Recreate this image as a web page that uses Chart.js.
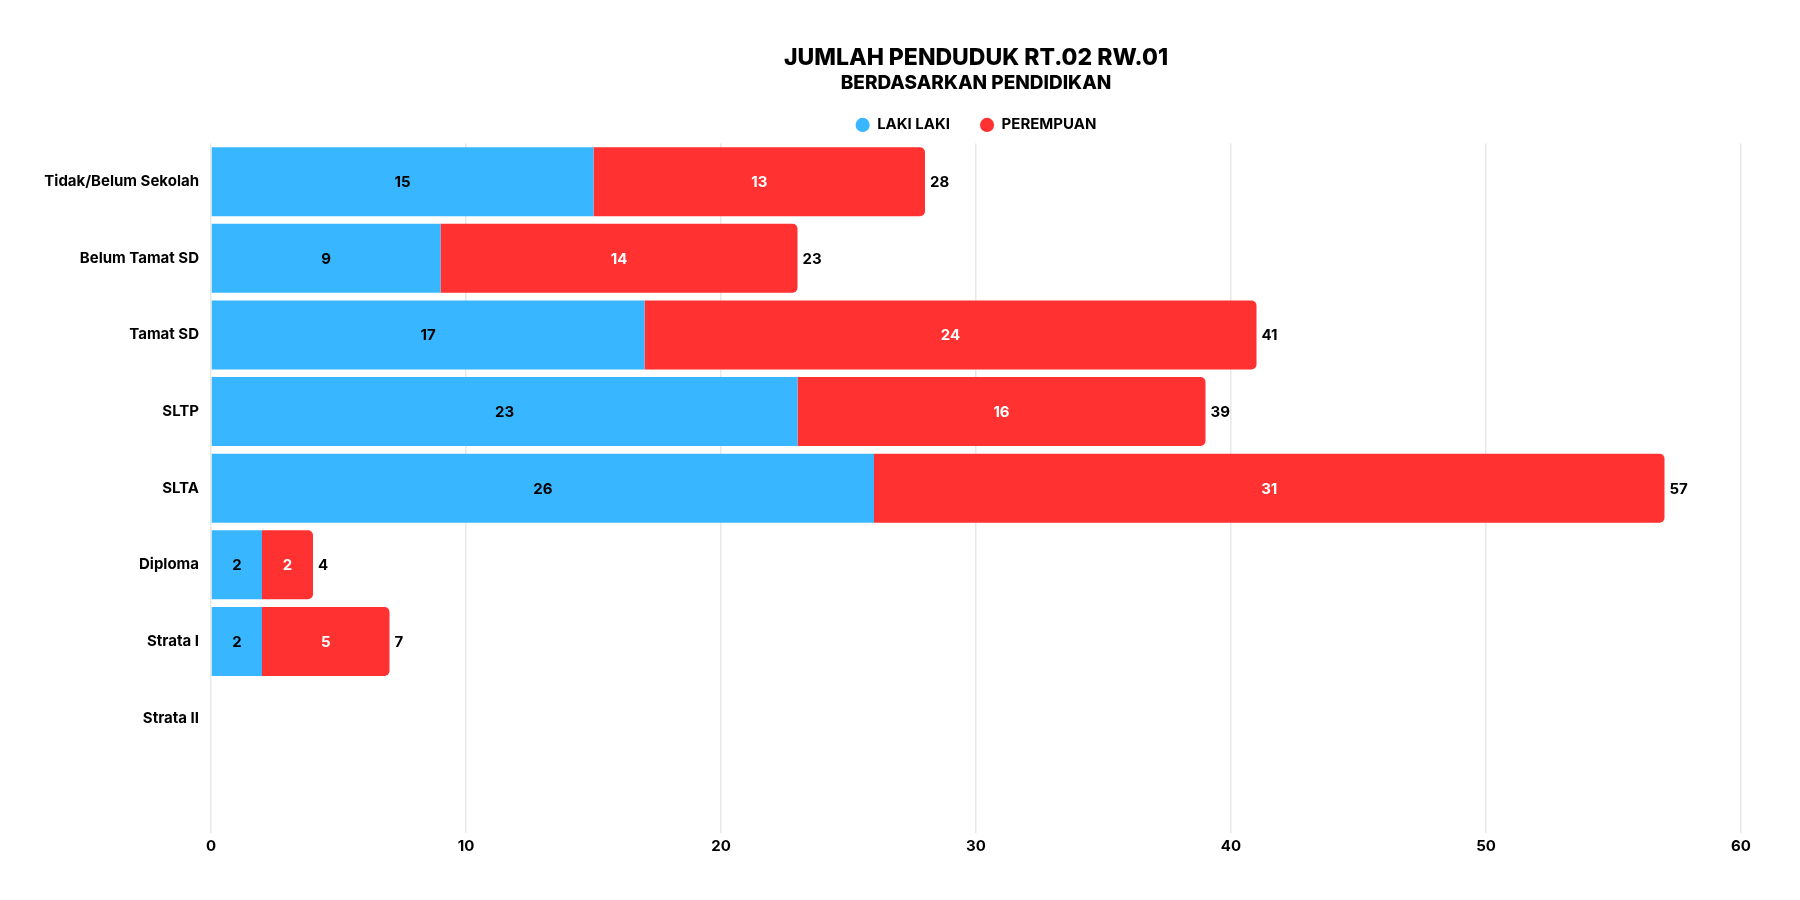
<!DOCTYPE html>
<html>
<head>
<meta charset="utf-8">
<title>Jumlah Penduduk RT.02 RW.01</title>
<script src="https://cdn.jsdelivr.net/npm/chart.js@4/dist/chart.umd.min.js"></script>
<style>
  html, body { margin: 0; padding: 0; background: #fff; }
  #wrap { width: 1800px; height: 900px; position: relative; }
</style>
</head>
<body>
<div id="wrap"><canvas id="chart"></canvas></div>
<script>
// data
const categories = ['Tidak/Belum Sekolah', 'Belum Tamat SD', 'Tamat SD', 'SLTP', 'SLTA', 'Diploma', 'Strata I', 'Strata II', ''];
const laki = [15, 9, 17, 23, 26, 2, 2, 0, null];
const perempuan = [13, 14, 24, 16, 31, 2, 5, 0, null];
const xTicks = [0, 10, 20, 30, 40, 50, 60];

const FONT = 'Inter';
const labelColors = ['#000000', '#ffffff'];

// values inside bars + total at end of each stack
const valueLabels = {
    id: 'valueLabels',
    afterDatasetsDraw(chart) {
        const ctx = chart.ctx;
        ctx.save();
        ctx.font = `bold 15px ${FONT}`;
        ctx.textBaseline = 'middle';
        chart.data.datasets.forEach((ds, di) => {
            const meta = chart.getDatasetMeta(di);
            meta.data.forEach((bar, i) => {
                const v = ds.data[i];
                if (!v) return;
                ctx.fillStyle = labelColors[di];
                ctx.textAlign = 'center';
                ctx.fillText(v, (bar.x + bar.base) / 2, bar.y + 1);
            });
        });
        const last = chart.getDatasetMeta(chart.data.datasets.length - 1);
        last.data.forEach((bar, i) => {
            const total = (laki[i] || 0) + (perempuan[i] || 0);
            if (!total) return;
            ctx.fillStyle = '#000';
            ctx.textAlign = 'left';
            ctx.fillText(total, bar.x + 5, bar.y + 1);
        });
        ctx.restore();
    }
};

const ctx = document.getElementById('chart').getContext('2d');
const chart = new Chart(ctx, {
    type: 'bar',
    data: {
        labels: categories,
        datasets: [{
            label: 'LAKI LAKI',
            data: laki,
            backgroundColor: '#38B6FF',
            borderWidth: 0,
            borderRadius: 0
        }, {
            label: 'PEREMPUAN',
            data: perempuan,
            backgroundColor: '#FF3131',
            borderWidth: 0,
            borderRadius: 5
        }]
    },
    options: {
        indexAxis: 'y',
        responsive: true,
        maintainAspectRatio: false,
        animation: false,
        categoryPercentage: 0.9,
        barPercentage: 1.0,
        layout: { padding: { top: 30, left: 0, right: 0, bottom: 0 } },
        plugins: {
            // fullSize:false -> centred over the plot area like the reference
            title: {
                display: true,
                fullSize: false,
                text: 'JUMLAH PENDUDUK RT.02 RW.01',
                color: '#000',
                font: { family: FONT, size: 23, weight: '800' },
                padding: { top: 14, bottom: 0 }
            },
            subtitle: {
                display: true,
                fullSize: false,
                text: 'BERDASARKAN PENDIDIKAN',
                color: '#000',
                font: { family: FONT, size: 19, weight: '800' },
                padding: { top: 0, bottom: -7 }
            },
            legend: {
                display: true,
                fullSize: false,
                position: 'top',
                labels: {
                    usePointStyle: true,
                    pointStyle: 'circle',
                    boxWidth: 14,
                    boxHeight: 10,
                    padding: 30,
                    color: '#000',
                    font: { family: FONT, size: 15, weight: 'bold' }
                }
            },
            tooltip: { enabled: false }
        },
        scales: {
            x: {
                stacked: true,
                min: 0,
                max: 60,
                afterBuildTicks: s => { s.ticks = xTicks.map(v => ({ value: v })); },
                grid: { color: '#e8e8e8', lineWidth: 1.5, drawTicks: false },
                border: { display: false },
                ticks: {
                    padding: 4,
                    color: '#000',
                    font: { family: FONT, size: 15, weight: 'bold' }
                },
                afterFit: s => { s.height = 67; }
            },
            y: {
                stacked: true,
                grid: { display: false, drawTicks: false },
                border: { display: false },
                ticks: {
                    padding: 12,
                    color: '#000',
                    font: { family: FONT, size: 15, weight: 'bold' }
                },
                afterFit: s => { s.width = 211; }
            },
            // spacers to place the plot area like the reference
            yRight: {
                type: 'category',
                position: 'right',
                display: true,
                grid: { display: false, drawTicks: false },
                border: { display: false },
                ticks: { display: false },
                afterFit: s => { s.width = 59; }
            },
            xTop: {
                type: 'linear',
                position: 'top',
                display: true,
                grid: { display: false, drawTicks: false },
                border: { display: false },
                ticks: { display: false },
                afterFit: s => { s.height = 1; }
            }
        }
    },
    plugins: [valueLabels]
});
</script>
</body>
</html>
